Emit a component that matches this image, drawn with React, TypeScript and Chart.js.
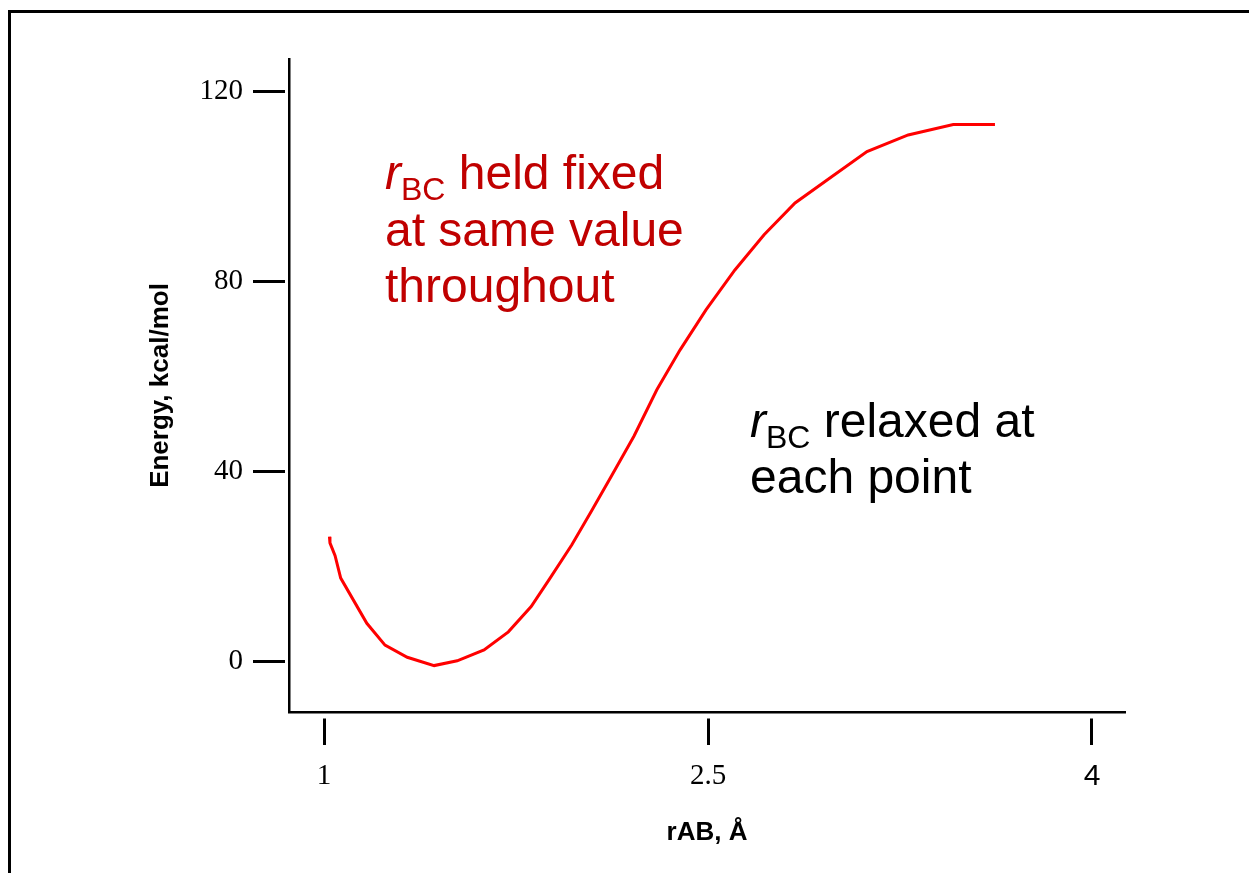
import React, { useEffect, useRef } from 'react';
import { Chart, registerables } from 'chart.js';

Chart.register(...registerables);

// ---- data ----
const R_AB = [
  1.021, 1.023, 1.043, 1.065, 1.167, 1.238, 1.325, 1.43, 1.52, 1.625, 1.72, 1.809, 1.883, 1.968,
  2.047, 2.125, 2.211, 2.3, 2.391, 2.492, 2.605, 2.719, 2.84, 2.983, 3.121, 3.282, 3.458, 3.621,
];
const ENERGY = [
  26.3, 25.0, 22.3, 17.6, 8.1, 3.5, 0.95, -0.8, 0.2, 2.5, 6.3, 11.6, 17.6, 24.6,
  31.9, 39.3, 47.5, 57.2, 65.6, 74.0, 82.4, 89.8, 96.5, 102.0, 107.3, 110.8, 113.0, 113.0,
];
const X_TICKS = [1, 2.5, 4];
const Y_TICKS = [0, 40, 80, 120];
const X_TITLE = 'rAB, Å';
const Y_TITLE = 'Energy, kcal/mol';
const X_RANGE = [0.863, 4.129];
const Y_RANGE = [-10.56, 126.77];

type Seg = { t: string; i?: boolean; sub?: boolean };
const NOTE_FIXED: Seg[][] = [
  [{ t: 'r', i: true }, { t: 'BC', sub: true }, { t: ' held fixed' }],
  [{ t: 'at same value' }],
  [{ t: 'throughout' }],
];
const NOTE_RELAXED: Seg[][] = [
  [{ t: 'r', i: true }, { t: 'BC', sub: true }, { t: ' relaxed at' }],
  [{ t: 'each point' }],
];

// ---- styling ----
const SANS = '"Liberation Sans", Arial, Helvetica, sans-serif';
const SERIF = '"Liberation Serif", "Times New Roman", Times, serif';
const NOTE_SIZE = 48;
const SUB_SIZE = 32;
const NOTE_LINE = 56.5;

function drawNote(ctx: CanvasRenderingContext2D, x0: number, y0: number, lines: Seg[][], color: string) {
  ctx.save();
  ctx.fillStyle = color;
  ctx.textAlign = 'left';
  ctx.textBaseline = 'alphabetic';
  lines.forEach((line, li) => {
    let cx = x0;
    const by = y0 + li * NOTE_LINE;
    line.forEach((s) => {
      ctx.font = `${s.i ? 'italic ' : ''}${s.sub ? SUB_SIZE : NOTE_SIZE}px ${SANS}`;
      ctx.fillText(s.t, cx, by + (s.sub ? 11 : 0));
      cx += ctx.measureText(s.t).width;
    });
  });
  ctx.restore();
}

const notesPlugin = {
  id: 'notes',
  afterDatasetsDraw(chart: any) {
    const { ctx, scales } = chart;
    const xs = scales.x;
    const ys = scales.y;
    drawNote(ctx, xs.getPixelForValue(1.238), ys.getPixelForValue(99.4), NOTE_FIXED, '#c00000');
    drawNote(ctx, xs.getPixelForValue(2.664), ys.getPixelForValue(47.3), NOTE_RELAXED, '#000000');
  },
};

export default function App() {
  const ref = useRef<HTMLCanvasElement | null>(null);

  useEffect(() => {
    if (!ref.current) return;
    const chart = new Chart(ref.current, {
      type: 'line',
      data: {
        datasets: [
          {
            data: R_AB.map((x, i) => ({ x, y: ENERGY[i] })),
            borderColor: '#ff0000',
            borderWidth: 3,
            pointRadius: 0,
            tension: 0,
            fill: false,
          },
        ],
      },
      options: {
        animation: false,
        responsive: true,
        maintainAspectRatio: false,
        layout: { padding: { top: 59, right: 124, bottom: 0, left: 0 } },
        plugins: { legend: { display: false }, tooltip: { enabled: false } },
        scales: {
          x: {
            type: 'linear',
            position: 'bottom',
            min: X_RANGE[0],
            max: X_RANGE[1],
            afterBuildTicks: (s: any) => {
              s.ticks = X_TICKS.map((v) => ({ value: v }));
            },
            afterFit: (s: any) => {
              s.height = 161;
            },
            grid: {
              drawOnChartArea: false,
              drawTicks: true,
              tickLength: 33,
              tickWidth: 3,
              tickColor: '#000',
              tickBorderDash: [0, 5, 27, 100],
            },
            border: { display: true, color: '#000', width: 2.5 },
            ticks: {
              autoSkip: false,
              maxRotation: 0,
              padding: 14,
              color: '#000',
              callback: (v: any) => String(v),
              font: (c: any) =>
                c.tick && c.tick.value === 4
                  ? { family: SANS, size: 30 }
                  : { family: SERIF, size: 29 },
            },
            title: {
              display: true,
              text: X_TITLE,
              color: '#000',
              font: { family: SANS, size: 26, weight: 'bold' },
              padding: { top: 0, bottom: 25 },
            },
          },
          y: {
            type: 'linear',
            position: 'left',
            min: Y_RANGE[0],
            max: Y_RANGE[1],
            afterBuildTicks: (s: any) => {
              s.ticks = Y_TICKS.map((v) => ({ value: v }));
            },
            afterFit: (s: any) => {
              s.width = 289;
            },
            grid: {
              drawOnChartArea: false,
              drawTicks: true,
              tickLength: 36,
              tickWidth: 3,
              tickColor: '#000',
              tickBorderDash: [32, 100],
            },
            border: { display: true, color: '#000', width: 2.5 },
            ticks: {
              autoSkip: false,
              padding: 10,
              color: '#000',
              callback: (v: any) => String(v),
              font: { family: SERIF, size: 29 },
            },
            title: {
              display: true,
              text: Y_TITLE,
              color: '#000',
              font: { family: SANS, size: 26, weight: 'bold' },
              padding: { top: 145, bottom: 0 },
            },
          },
        },
      } as any,
      plugins: [notesPlugin],
    });
    return () => chart.destroy();
  }, []);

  return (
    <div
      style={{
        position: 'absolute',
        left: 0,
        top: 0,
        width: 1249,
        height: 873,
        overflow: 'hidden',
        background: '#fff',
      }}
    >
      <div
        style={{
          position: 'absolute',
          left: 8,
          top: 10,
          width: 1400,
          height: 1000,
          borderTop: '3px solid #000',
          borderLeft: '3px solid #000',
          boxSizing: 'border-box',
        }}
      />
      <div style={{ position: 'absolute', left: 0, top: 0, width: 1249, height: 873 }}>
        <canvas ref={ref} />
      </div>
    </div>
  );
}
